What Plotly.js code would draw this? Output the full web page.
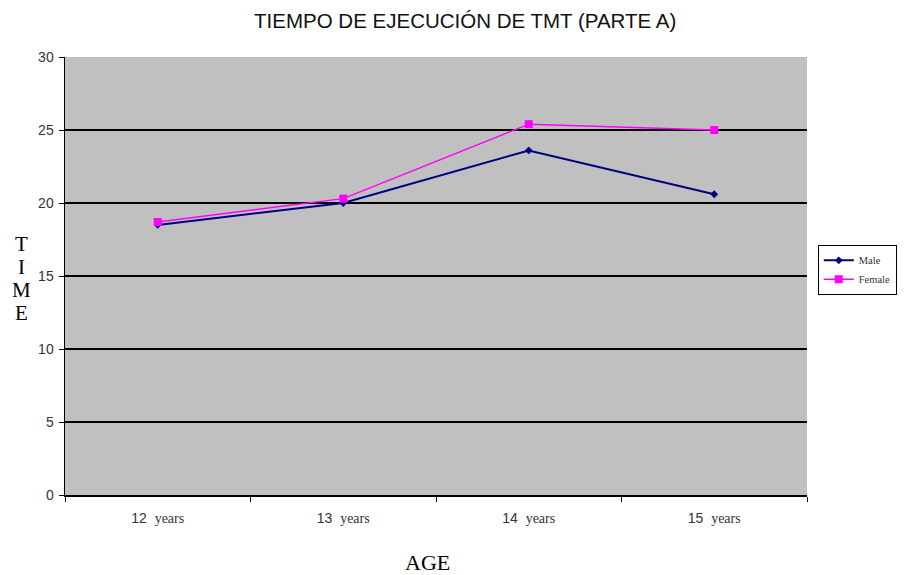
<!DOCTYPE html>
<html>
<head>
<meta charset="utf-8">
<script src="https://cdn.plot.ly/plotly-3.0.1.min.js"></script>
<style>html,body{margin:0;padding:0;background:#fff}#chart{width:923px;height:575px}</style>
</head>
<body>
<div id="chart"></div>
<script>
const categories = ["12 years", "13 years", "14 years", "15 years"];
const tickNumbers = ["12", "13", "14", "15"];
const tickWords = ["years", "years", "years", "years"];
const maleValues = [18.5, 20.0, 23.6, 20.6];
const femaleValues = [18.7, 20.3, 25.4, 25.0];
const yTicks = [0, 5, 10, 15, 20, 25, 30];
const yTitleLetters = ["T", "I", "M", "E"];

const tickText = tickNumbers.map((n, i) =>
  n + '  <span style="font-family:Liberation Serif, Times New Roman;font-size:14px">' + tickWords[i] + '</span>');

const traces = [
  {
    x: categories, y: maleValues, name: "Male", type: "scatter", mode: "lines+markers",
    line: {color: "#000080", width: 2},
    marker: {symbol: "diamond", size: 6, color: "#000080"}
  },
  {
    x: categories, y: femaleValues, name: "Female", type: "scatter", mode: "lines+markers",
    line: {color: "#ff00ff", width: 1.5},
    marker: {symbol: "square", size: 8, color: "#ff00ff"}
  }
];

const annotations = yTitleLetters.map((ch, i) => ({
  text: ch, xref: "paper", yref: "paper",
  x: -0.058, y: 0.494, xanchor: "center", yanchor: "middle", showarrow: false,
  yshift: -(i - 1.5) * 23,
  font: {family: "Liberation Serif, Times New Roman", size: 21, color: "#000"}
}));
annotations.push({
  text: "AGE", xref: "paper", yref: "paper",
  x: 0.489, y: -0.153, xanchor: "center", yanchor: "middle", showarrow: false,
  font: {family: "Liberation Serif, Times New Roman", size: 22, color: "#000"}
});

const layout = {
  width: 923, height: 575,
  margin: {l: 65, r: 116, t: 57, b: 80},
  paper_bgcolor: "#ffffff",
  plot_bgcolor: "#c0c0c0",
  showlegend: true,
  title: {
    text: "TIEMPO DE EJECUCIÓN DE TMT (PARTE A)",
    font: {family: "Liberation Sans, Arial", size: 20.5, color: "#111"},
    x: 0.504, xanchor: "center", y: 0.963, yanchor: "middle"
  },
  xaxis: {
    type: "category", range: [-0.5, 3.5],
    tickvals: categories, ticktext: tickText,
    showline: true, linecolor: "#000", linewidth: 1.5,
    ticks: "outside", ticklen: 5, tickcolor: "#000", tickson: "boundaries",
    ticklabelstandoff: 10,
    showgrid: false,
    tickfont: {family: "Liberation Sans, Arial", size: 14, color: "#333"}
  },
  yaxis: {
    range: [0, 30], tickvals: yTicks,
    showline: true, linecolor: "#000", linewidth: 1.5,
    ticks: "outside", ticklen: 5, tickcolor: "#000",
    ticklabelstandoff: 2,
    showgrid: true, gridcolor: "#000", gridwidth: 1.5,
    zeroline: false,
    tickfont: {family: "Liberation Sans, Arial", size: 14, color: "#333"}
  },
  legend: {
    x: 1.0145, xanchor: "left", y: 0.514, yanchor: "middle",
    bgcolor: "#fff", bordercolor: "#000", borderwidth: 1,
    font: {family: "Liberation Serif, Times New Roman", size: 10.5, color: "#333"},
    tracegroupgap: 0, itemwidth: 30
  },
  annotations: annotations
};

Plotly.newPlot("chart", traces, layout, {displayModeBar: false, staticPlot: true});
</script>
</body>
</html>
